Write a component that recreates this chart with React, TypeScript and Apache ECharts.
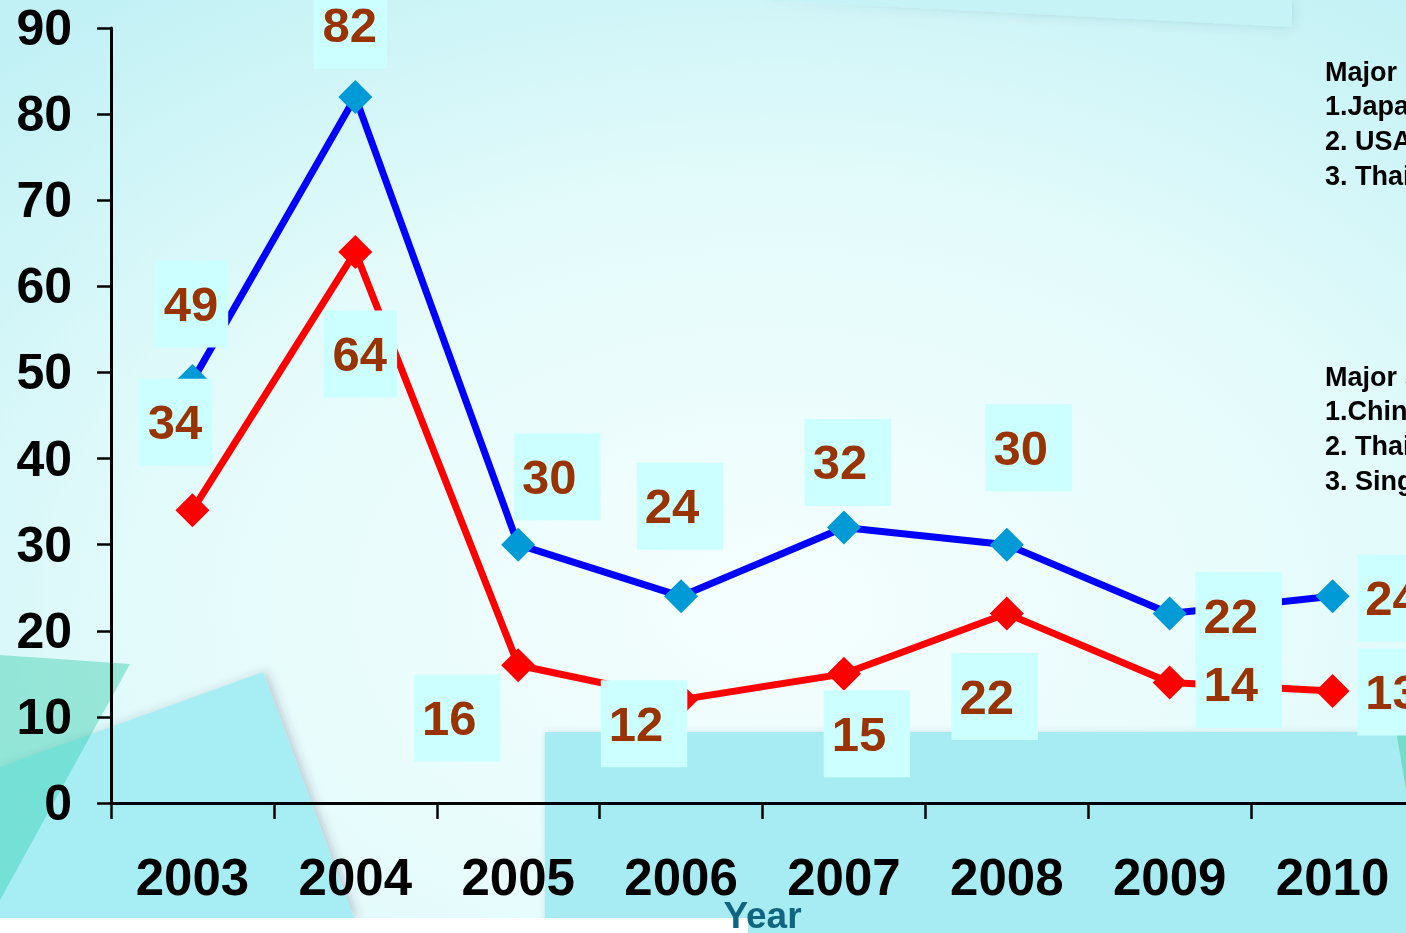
import React, { useEffect, useRef } from "react";
import * as echarts from "echarts";

// Yearly figures, one line each
const years = ["2003", "2004", "2005", "2006", "2007", "2008", "2009", "2010"];
const exportsValues = [49, 82, 30, 24, 32, 30, 22, 24];
const importsValues = [34, 64, 16, 12, 15, 22, 14, 13];

// Side notes
const exportNotes = ["Major markets", "1.Japan", "2. USA", "3. Thailand"];
const importNotes = ["Major sources", "1.China", "2. Thailand", "3. Singapore"];

// Label placement (pixel offsets from each point) and box widths
const exportLabelOffsets = [[-1, -77], [-5, -72], [39, -68], [-1, -90], [4, -65], [22, -97], [69, 2], [68, 2]];
const importLabelOffsets = [[-17, -88], [5, 102], [-61, 53], [-37, 24], [23, 60], [-12, 83], [69, 2], [68, 1]];
const wideBox = [false, false, true, true, true, true, true, true];

const FONT = "'Liberation Sans', Arial, Helvetica, sans-serif";

function buildData(values: number[], offsets: number[][]) {
  return values.map((v, i) => ({
    value: v,
    label: {
      offset: offsets[i],
      padding: wideBox[i] ? [19, 24, 19, 8] : [19, 10, 19, 9],
    },
  }));
}

function noteTexts(lines: string[], top: number) {
  return lines.map((t, i) => ({
    type: "text",
    left: 1325,
    top: top + i * 34.7 - 14,
    silent: true,
    z: 1,
    style: {
      text: t,
      fill: "#000000",
      font: `bold 27px ${FONT}`,
    },
  }));
}

export default function App() {
  const ref = useRef<HTMLDivElement>(null);

  useEffect(() => {
    if (!ref.current) return;
    const chart = echarts.init(ref.current, undefined, { renderer: "svg" });

    const labelBase = {
      show: true,
      position: "inside",
      fontSize: 49,
      lineHeight: 49,
      fontWeight: "bold",
      fontFamily: FONT,
      color: "#993300",
      backgroundColor: "#ccffff",
    };

    chart.setOption({
      animation: false,
      graphic: [
        {
          type: "rect",
          shape: { x: 0, y: 0, width: 1406, height: 933 },
          silent: true,
          z: -10,
          style: {
            fill: {
              type: "radial",
              x: 0.55,
              y: 0.65,
              r: 0.8,
              colorStops: [
                { offset: 0, color: "#f5fefe" },
                { offset: 0.55, color: "#e4fbfb" },
                { offset: 1, color: "#c2f1f5" },
              ],
            },
          },
        },
        {
          type: "polygon",
          silent: true,
          z: -9,
          shape: { points: [[760, 0], [1292, 0], [1292, 27]] },
          style: { fill: "#c6f3f6", shadowBlur: 12, shadowColor: "rgba(0,80,100,0.15)" },
        },
        {
          type: "polygon",
          silent: true,
          z: -9,
          shape: { points: [[263, 672], [354, 918], [0, 918], [0, 767]] },
          style: { fill: "#a6eef4", shadowBlur: 10, shadowColor: "rgba(60,60,90,0.25)", shadowOffsetX: 4 },
        },
        {
          type: "polygon",
          silent: true,
          z: -8,
          shape: { points: [[0, 655], [130, 664], [0, 900]] },
          style: { fill: "rgba(50,205,170,0.42)" },
        },
        {
          type: "rect",
          silent: true,
          z: -9,
          shape: { x: 545, y: 732, width: 870, height: 210 },
          style: { fill: "#a6ecf2", shadowBlur: 6, shadowColor: "rgba(0,80,100,0.15)" },
        },
        {
          type: "polygon",
          silent: true,
          z: -8,
          shape: { points: [[1396, 730], [1406, 705], [1406, 790]] },
          style: { fill: "#74dcc8" },
        },
        {
          type: "rect",
          silent: true,
          z: -7,
          shape: { x: 0, y: 918, width: 748, height: 15 },
          style: { fill: "#ffffff" },
        },
        ...noteTexts(exportNotes, 72),
        ...noteTexts(importNotes, 377),
      ],
      grid: {
        left: 111,
        right: -8,
        top: 28,
        bottom: 130,
        containLabel: false,
        outerBoundsMode: "none",
      },
      xAxis: {
        type: "category",
        data: years,
        boundaryGap: true,
        name: "Year",
        nameLocation: "middle",
        nameGap: 94,
        nameMoveOverlap: false,
        nameTextStyle: {
          color: "#10667f",
          fontSize: 37,
          fontWeight: "bold",
          fontFamily: FONT,
        },
        axisLine: { show: true, lineStyle: { color: "#000000", width: 3 } },
        axisTick: { show: true, length: 16, lineStyle: { color: "#000000", width: 2.5 } },
        axisLabel: {
          color: "#000000",
          fontSize: 51,
          fontWeight: "bold",
          fontFamily: FONT,
          margin: 49,
          interval: 0,
        },
        splitLine: { show: false },
      },
      yAxis: {
        type: "value",
        min: 0,
        max: 90,
        interval: 10,
        axisLine: { show: true, lineStyle: { color: "#000000", width: 3 } },
        axisTick: { show: true, length: 14, lineStyle: { color: "#000000", width: 2.5 } },
        axisLabel: {
          color: "#000000",
          fontSize: 50,
          fontWeight: "bold",
          fontFamily: FONT,
          margin: 39,
        },
        splitLine: { show: false },
      },
      series: [
        {
          name: "exports",
          type: "line",
          z: 2,
          data: buildData(exportsValues, exportLabelOffsets),
          symbol: "diamond",
          symbolSize: 34,
          showSymbol: true,
          showAllSymbol: true,
          lineStyle: { color: "#0000ff", width: 7 },
          itemStyle: { color: "#009ad6" },
          label: labelBase,
        },
        {
          name: "imports",
          type: "line",
          z: 3,
          data: buildData(importsValues, importLabelOffsets),
          symbol: "diamond",
          symbolSize: 34,
          showSymbol: true,
          showAllSymbol: true,
          lineStyle: { color: "#ff0000", width: 7 },
          itemStyle: { color: "#ff0000" },
          label: labelBase,
        },
      ],
    });

    return () => chart.dispose();
  }, []);

  return (
    <div
      ref={ref}
      style={{ position: "fixed", left: 0, top: 0, width: 1406, height: 933, overflow: "hidden" }}
    />
  );
}
